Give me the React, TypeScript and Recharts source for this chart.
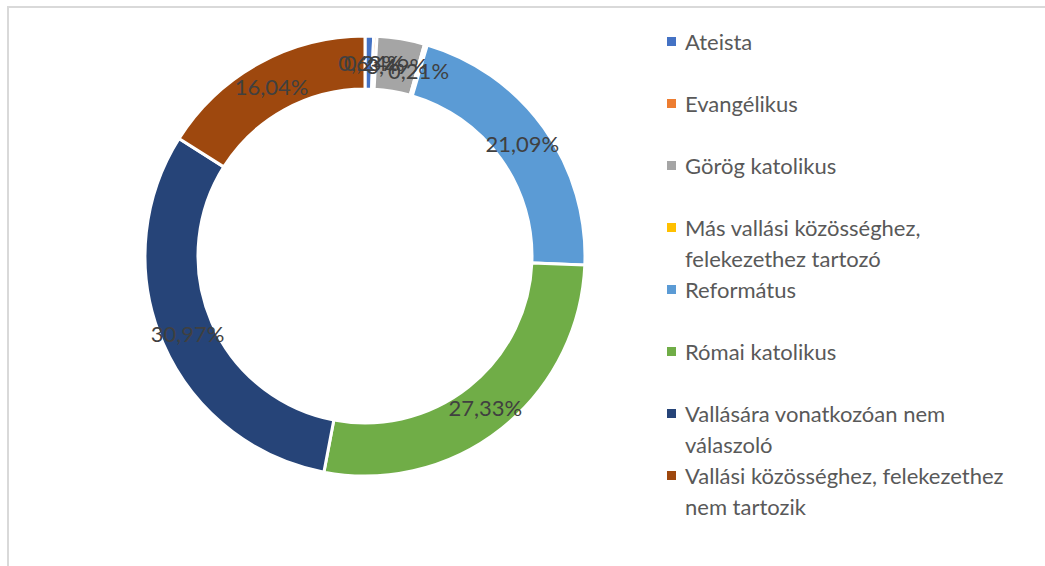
import React from 'react';
import { PieChart, Pie, Cell, Legend } from 'recharts';

const categories = [
  'Ateista',
  'Evangélikus',
  'Görög katolikus',
  'Más vallási közösséghez, felekezethez tartozó',
  'Református',
  'Római katolikus',
  'Vallására vonatkozóan nem válaszoló',
  'Vallási közösséghez, felekezethez nem tartozik',
];

// legend labels as Excel wrapped them
const legendLines = [
  ['Ateista'],
  ['Evangélikus'],
  ['Görög katolikus'],
  ['Más vallási közösséghez,', 'felekezethez tartozó'],
  ['Református'],
  ['Római katolikus'],
  ['Vallására vonatkozóan nem', 'válaszoló'],
  ['Vallási közösséghez, felekezethez', 'nem tartozik'],
];

const shares = [0.63, 0.24, 3.49, 0.21, 21.09, 27.33, 30.97, 16.04];

const COLORS = ['#4472C4', '#ED7D31', '#A5A5A5', '#FFC000', '#5B9BD5', '#70AD47', '#264478', '#9E480E'];

const data = categories.map((name, i) => ({ name, value: shares[i] }));

const FONT = 'Lato, "Open Sans", sans-serif';
const RAD = Math.PI / 180;

const fmt = (v: number) => v.toFixed(2).replace('.', ',') + '%';

const renderLabel = (props: any) => {
  const { cx, cy, midAngle, innerRadius, outerRadius, value } = props;
  const r = (innerRadius + outerRadius) / 2;
  const x = cx + r * Math.cos(-midAngle * RAD);
  const y = cy + r * Math.sin(-midAngle * RAD);
  return (
    <text x={x} y={y} fill="#404040" fontSize={22} fontFamily={FONT} textAnchor="middle" dominantBaseline="central">
      {fmt(value)}
    </text>
  );
};

const LegendContent = () => (
  <div style={{ fontFamily: FONT, fontSize: 22, color: '#595959' }}>
    {legendLines.map((lines, i) => (
      <div key={i} style={{ height: 62, display: 'flex', alignItems: 'flex-start' }}>
        <div style={{ width: 9, height: 9, background: COLORS[i], marginTop: 11, marginRight: 9, flexShrink: 0 }} />
        <div style={{ lineHeight: '31px', whiteSpace: 'nowrap' }}>
          {lines.map((l, j) => (
            <div key={j}>{l}</div>
          ))}
        </div>
      </div>
    ))}
  </div>
);

export default function App() {
  return (
    <div style={{ position: 'fixed', left: 0, top: 0, width: 1045, height: 566, background: '#fff' }}>
      <div style={{ position: 'absolute', left: 7, top: 6, right: 0, bottom: 0, borderTop: '2px solid #d9d9d9', borderLeft: '2px solid #d9d9d9' }} />
      <PieChart width={1045} height={566} margin={{ top: 0, right: 0, bottom: 0, left: 0 }} style={{ position: 'absolute', left: 0, top: 0 }}>
        <Pie
          data={data}
          dataKey="value"
          nameKey="name"
          cx={365}
          cy={256}
          innerRadius={167}
          outerRadius={220}
          startAngle={90}
          endAngle={-270}
          stroke="#ffffff"
          strokeWidth={3}
          label={renderLabel}
          labelLine={false}
          isAnimationActive={false}
        >
          {data.map((d, i) => (
            <Cell key={d.name} fill={COLORS[i]} />
          ))}
        </Pie>
        <Legend
          layout="vertical"
          align="right"
          verticalAlign="top"
          content={<LegendContent />}
          wrapperStyle={{ left: 667, top: 26, width: 375, right: 'auto' }}
        />
      </PieChart>
    </div>
  );
}
